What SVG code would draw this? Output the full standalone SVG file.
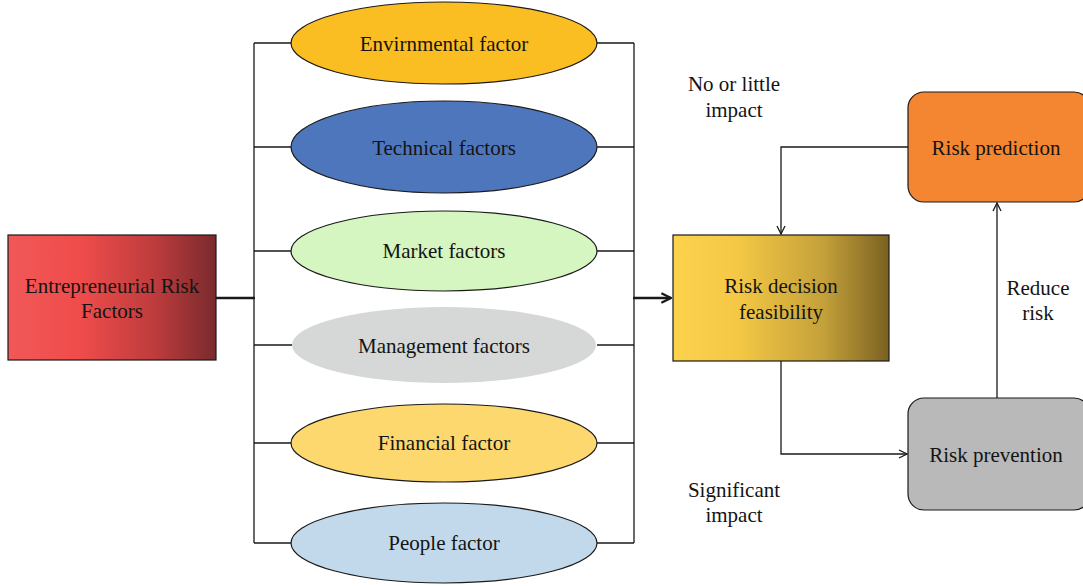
<svg xmlns="http://www.w3.org/2000/svg" width="1083" height="586" viewBox="0 0 1083 586">
  <style>
    text { font-family: "Liberation Serif", "DejaVu Serif", serif; font-size: 21px; fill: #141414; text-anchor: middle; dominant-baseline: central; }
    .ell { stroke: #1a1a1a; stroke-width: 1.2; }
    .box { stroke: #1a1a1a; stroke-width: 1.2; }
    .ln { fill: none; stroke: #1a1a1a; stroke-width: 1.3; }
    .thick { fill: none; stroke: #1a1a1a; stroke-width: 2.4; }
  </style>
  <defs>
    <linearGradient id="gRed" x1="0" y1="0" x2="1" y2="0">
      <stop offset="0" stop-color="#F15858"/>
      <stop offset="0.35" stop-color="#EF4C4B"/>
      <stop offset="0.7" stop-color="#BE3C3D"/>
      <stop offset="1" stop-color="#7A2A2D"/>
    </linearGradient>
    <linearGradient id="gGold" x1="0" y1="0" x2="1" y2="0">
      <stop offset="0" stop-color="#FDD24D"/>
      <stop offset="0.3" stop-color="#F4C845"/>
      <stop offset="0.7" stop-color="#C3A03A"/>
      <stop offset="1" stop-color="#7A6121"/>
    </linearGradient>
    <marker id="arr" viewBox="0 0 10 10" refX="9" refY="5" markerWidth="10" markerHeight="10" markerUnits="userSpaceOnUse" orient="auto">
      <path d="M1,1 L9,5 L1,9" fill="none" stroke="#1a1a1a" stroke-width="1.3"/>
    </marker>
    <marker id="arrB" viewBox="0 0 10 10" refX="9" refY="5" markerWidth="12" markerHeight="12" markerUnits="userSpaceOnUse" orient="auto">
      <path d="M1,1 L9,5 L1,9" fill="none" stroke="#1a1a1a" stroke-width="2"/>
    </marker>
  </defs>

  <!-- connectors -->
  <g id="connectors">
    <!-- left bus and branches -->
    <path class="ln" d="M254,43 V543"/>
    <path class="ln" d="M254,43 H292 M254,147 H292 M254,251 H292 M254,345 H292 M254,443 H292 M254,543 H292"/>
    <path class="thick" d="M216,298 H255"/>
    <!-- right bus and branches -->
    <path class="ln" d="M634,43 V543"/>
    <path class="ln" d="M597,43 H634 M597,147 H634 M597,251 H634 M597,345 H634 M597,443 H634 M597,543 H634"/>
    <path class="thick" d="M633,298 H671" marker-end="url(#arrB)"/>
    <!-- feedback loop -->
    <path class="ln" d="M908,147 H781 V234" marker-end="url(#arr)"/>
    <path class="ln" d="M781,361 V454 H907" marker-end="url(#arr)"/>
    <path class="ln" stroke="#333" d="M997,398 V203" marker-end="url(#arr)"/>
  </g>

  <g id="entrepreneurial">
    <rect class="box" x="8" y="235" width="208" height="125" fill="url(#gRed)"/>
    <text x="112" y="286">Entrepreneurial Risk</text>
    <text x="112" y="311">Factors</text>
  </g>

  <g id="environmental">
    <ellipse class="ell" cx="444" cy="43" rx="153" ry="41" fill="#FBBE22"/>
    <text x="444" y="44">Envirnmental factor</text>
  </g>
  <g id="technical">
    <ellipse class="ell" cx="444" cy="147" rx="153" ry="46" fill="#4E76BD"/>
    <text x="444" y="148">Technical factors</text>
  </g>
  <g id="market">
    <ellipse class="ell" cx="444" cy="251" rx="153" ry="40" fill="#D5F5C1"/>
    <text x="444" y="251">Market factors</text>
  </g>
  <g id="management">
    <ellipse cx="444" cy="345" rx="152" ry="38" fill="#D5D8D7"/>
    <text x="444" y="346">Management factors</text>
  </g>
  <g id="financial">
    <ellipse class="ell" cx="444" cy="443" rx="153" ry="39" fill="#FDD86F"/>
    <text x="444" y="443">Financial factor</text>
  </g>
  <g id="people">
    <ellipse class="ell" cx="444" cy="543" rx="153" ry="40" fill="#C2D9EC"/>
    <text x="444" y="543">People factor</text>
  </g>

  <g id="decision">
    <rect class="box" x="673" y="235" width="216" height="126" fill="url(#gGold)"/>
    <text x="781" y="286">Risk decision</text>
    <text x="781" y="312">feasibility</text>
  </g>

  <g id="prediction">
    <rect class="box" x="908" y="92" width="182" height="110" rx="16" ry="16" fill="#F48632"/>
    <text x="996" y="148">Risk prediction</text>
  </g>

  <g id="prevention">
    <rect class="box" x="908" y="398" width="182" height="112" rx="16" ry="16" fill="#B9B9B9"/>
    <text x="996" y="455">Risk prevention</text>
  </g>

  <g id="labels">
    <text x="734" y="84">No or little</text>
    <text x="734" y="110">impact</text>
    <text x="734" y="490">Significant</text>
    <text x="734" y="515">impact</text>
    <text x="1038" y="288">Reduce</text>
    <text x="1038" y="313">risk</text>
  </g>
</svg>
